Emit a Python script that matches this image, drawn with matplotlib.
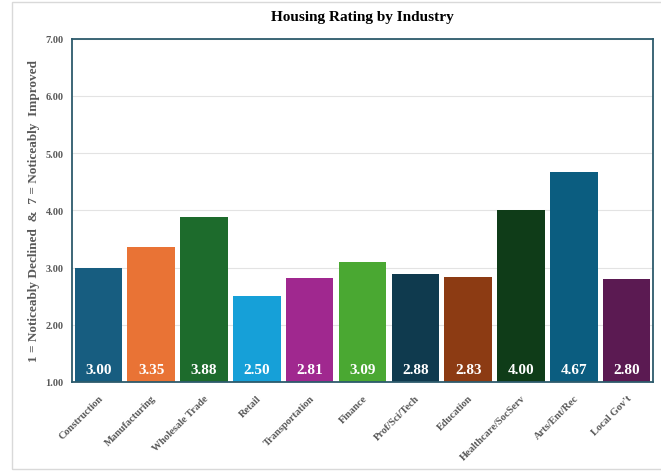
import matplotlib
matplotlib.use("Agg")
import matplotlib.pyplot as plt
from matplotlib.patches import Rectangle

industries = ["Construction", "Manufacturing", "Wholesale Trade", "Retail",
              "Transportation", "Finance", "Prof/Sci/Tech", "Education",
              "Healthcare/SocServ", "Arts/Ent/Rec", "Local Gov't"]
ratings = [3.00, 3.35, 3.88, 2.50, 2.81, 3.09, 2.88, 2.83, 4.00, 4.67, 2.80]
bar_colors = ["#175d80", "#e97335", "#1d6b2c", "#16a0d8", "#a0288f", "#4aa832",
              "#0f3a4e", "#8c3b13", "#0f3c18", "#0b5d80", "#5b1a52"]
y_ticks = [1.0, 2.0, 3.0, 4.0, 5.0, 6.0, 7.0]

plt.rcParams["font.family"] = ["Liberation Serif", "DejaVu Serif"]

fig = plt.figure(figsize=(6.61, 4.77), dpi=100)
fig.patch.set_facecolor("white")
# light outer frame around the chart
fig.patches.append(Rectangle((12 / 661, 1 - 470 / 477), 1.0, 467 / 477,
                             transform=fig.transFigure, fill=False,
                             edgecolor="#d9d9d9", linewidth=1.0))

ax = fig.add_axes([72 / 661, 1 - 383 / 477, 581 / 661, 343.5 / 477])
x = range(len(industries))
base = y_ticks[0]
heights = [r - base for r in ratings]
bars = ax.bar(x, heights, bottom=base, width=0.9, color=bar_colors, zorder=2)

for xi, r in zip(x, ratings):
    ax.text(xi, base + 0.1, f"{r:.2f}", ha="center", va="bottom",
            color="white", fontsize=11, fontweight="bold", zorder=3)

ax.set_xlim(-0.5, len(industries) - 0.5)
ax.set_ylim(y_ticks[0], y_ticks[-1])
ax.set_yticks(y_ticks)
ax.set_yticklabels([f"{t:.2f}" for t in y_ticks], fontsize=7.5, fontweight="bold",
                   color="#595959")
ax.set_xticks(list(x))
ax.set_xticklabels(industries, rotation=45, ha="right", va="top",
                   rotation_mode="anchor", fontsize=7.5, fontweight="bold",
                   color="#595959")
ax.tick_params(axis="both", length=0, pad=6)
ax.tick_params(axis="x", pad=8)
ax.yaxis.grid(True, color="#e3e3e3", linewidth=0.8, zorder=0)
ax.set_axisbelow(True)
for s in ax.spines.values():
    s.set_color("#2d5b6c")
    s.set_linewidth(1.3)

ax.set_ylabel("1 = Noticeably Declined  &  7 = Noticeably  Improved",
              fontsize=9.5, fontweight="bold", color="#595959", labelpad=4)
fig.text(0.5 * (72 + 653) / 661, 1 - 18 / 477, "Housing Rating by Industry",
         ha="center", va="center", fontsize=11, fontweight="bold", color="black")

fig.savefig("out.png", dpi=100)
